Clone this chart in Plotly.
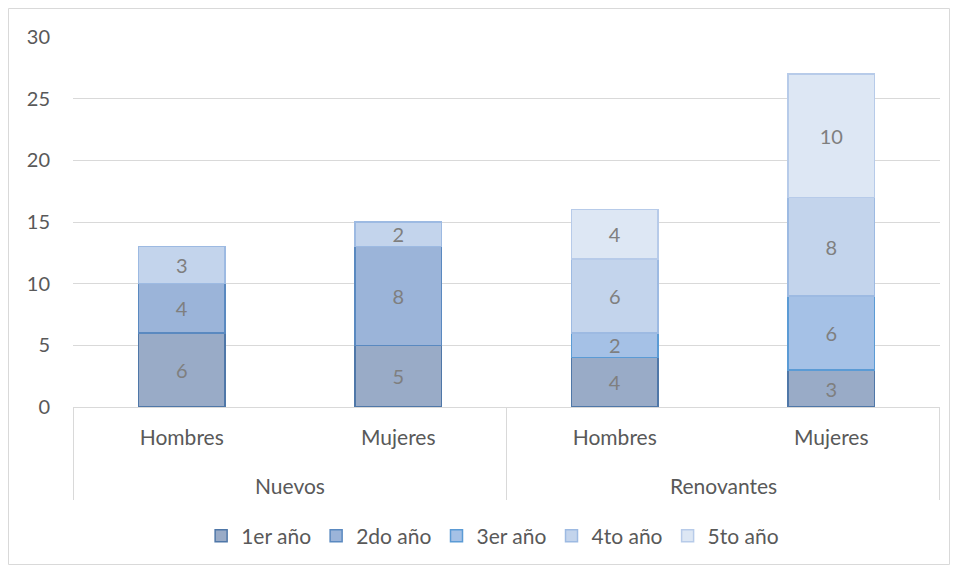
import plotly.graph_objects as go

groups = ["Nuevos", "Nuevos", "Renovantes", "Renovantes"]
subcats = ["Hombres", "Mujeres", "Hombres", "Mujeres"]
series_names = ["1er año", "2do año", "3er año", "4to año", "5to año"]
v1 = [6, 5, 4, 3]
v2 = [4, 8, None, None]
v3 = [None, None, 2, 6]
v4 = [3, 2, 6, 8]
v5 = [None, None, 4, 10]
y_ticks = [0, 5, 10, 15, 20, 25, 30]

values = [v1, v2, v3, v4, v5]
fills = ["#99abc7", "#9bb4d9", "#a5c1e6", "#c3d4ec", "#dde7f4"]
lines = ["#4f77a8", "#5a89c0", "#5b9bd5", "#9dbae2", "#b7cbe9"]

keys = [f"{g}|{s}" for g, s in zip(groups, subcats)]
FONT = "Lato"
GRAY = "#595959"

fig = go.Figure()
for name, vals, fc, lc in zip(series_names, values, fills, lines):
    fig.add_trace(go.Bar(
        x=keys, y=vals, name=name,
        marker=dict(color=fc, line=dict(color=lc, width=1.5)),
        text=[("" if v is None else str(v)) for v in vals],
        textposition="inside", insidetextanchor="middle", textangle=0,
        textfont=dict(color="#7f7f7f", size=20, family=FONT),
        constraintext="none",
    ))

PW, PH = 867, 370
L, R, T, B = 65, 10, 29, 158

annotations = []
group_names = []
for g in groups:
    if g not in group_names:
        group_names.append(g)
for g in group_names:
    idx = [i for i, gg in enumerate(groups) if gg == g]
    annotations.append(dict(x=sum(idx) / len(idx), xref="x", y=-(485 - 407) / PH, yref="paper",
                            text=g, showarrow=False, yanchor="middle",
                            font=dict(size=21, color=GRAY, family=FONT)))

shapes = []
bounds = [-0.5]
for i in range(1, len(groups)):
    if groups[i] != groups[i - 1]:
        bounds.append(i - 0.5)
bounds.append(len(groups) - 0.5)
for b in bounds:
    shapes.append(dict(type="line", xref="x", yref="paper", x0=b, x1=b, y0=0, y1=-(500 - 407) / PH,
                       line=dict(color="#d9d9d9", width=1)))
shapes.append(dict(type="rect", xref="paper", yref="paper",
                   x0=-(L - 0.5) / PW, x1=1 + (R - 0.5) / PW, y0=-(B - 0.5) / PH, y1=1 + (T - 0.5) / PH,
                   line=dict(color="#d9d9d9", width=1), fillcolor="rgba(0,0,0,0)", layer="below"))

fig.update_layout(
    barmode="stack", bargap=0.6,
    width=L + PW + R, height=T + PH + B,
    margin=dict(l=L, r=R, t=T, b=B, autoexpand=False),
    paper_bgcolor="white", plot_bgcolor="white",
    font=dict(family=FONT, color=GRAY, size=20),
    legend=dict(orientation="h", x=0.484, xanchor="center", y=-(536 - 407) / PH, yanchor="middle",
                font=dict(size=21, color=GRAY, family=FONT), traceorder="normal"),
    xaxis=dict(type="category", tickvals=keys, ticktext=subcats, showline=True, linecolor="#d9d9d9",
               linewidth=1, ticks="", tickfont=dict(size=21, color=GRAY, family=FONT),
               ticklabelstandoff=12, showgrid=False),
    yaxis=dict(range=[0, 30], tickvals=y_ticks, showgrid=True, gridcolor="#d9d9d9",
               zeroline=False, showline=False, ticks="", tickfont=dict(size=20, color=GRAY, family=FONT),
               ticklabelstandoff=22),
    annotations=annotations,
    shapes=shapes,
)

fig.write_html("out.html")
